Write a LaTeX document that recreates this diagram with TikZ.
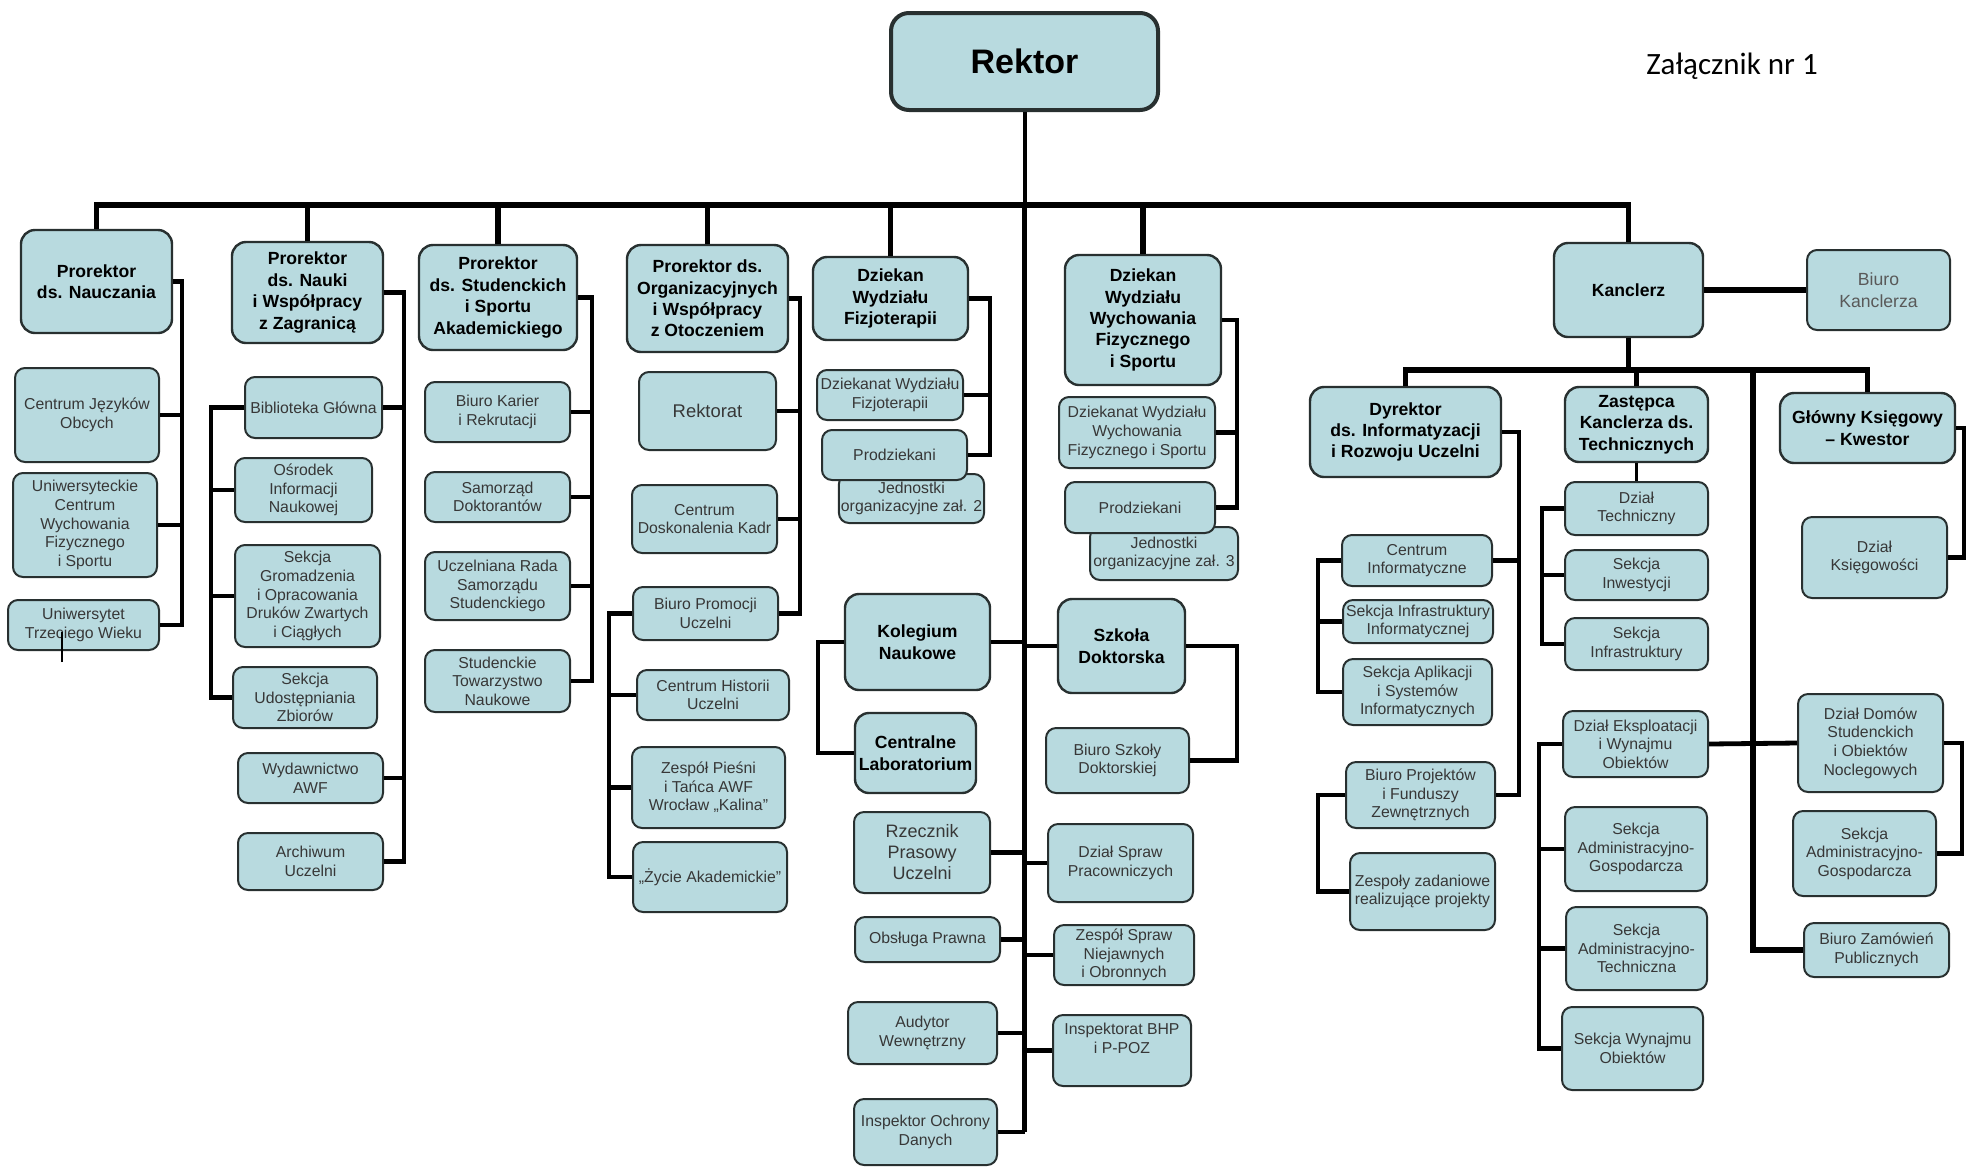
\documentclass[tikz,border=0pt]{standalone}
\usepackage{fontspec}
\setmainfont{Liberation Sans}
\newfontfamily\calibri{Carlito}
\usetikzlibrary{positioning}
\definecolor{boxfill}{RGB}{184,218,223}
\definecolor{boxline}{RGB}{40,48,48}
\definecolor{boxtext}{RGB}{55,55,55}
\tikzstyle{unit} = [draw=boxline, line width=1pt, fill=boxfill, rounded corners=5pt,
align=center, inner sep=1pt, text=boxtext, font=\fontsize{7.9}{9.3}\selectfont]
\tikzstyle{head} = [unit, rounded corners=7pt, line width=1.2pt, text=black,
font=\fontsize{8.8}{10.7}\selectfont\bfseries]
\tikzstyle{trunk} = [draw, line width=2.8pt]
\tikzstyle{wire} = [draw, line width=2.4pt]
% box from x1 to x2 and y1 to y2 (pixels of the chart)
\newcommand{\orgbox}[7][unit]{%
  \node[#1, minimum width={(#4-#3)*0.5pt}, minimum height={(#6-#5)*0.5pt}] (#2)
    at ({(#3+#4)/2},{(#5+#6)/2}) {#7};}

\begin{document}
\begin{tikzpicture}[x=0.5pt, y=-0.5pt]
	\useasboundingbox (0,0) rectangle (1968,1168);
	\orgbox[head, line width=2pt, rounded corners=9pt, font=\fontsize{17}{20}\selectfont\bfseries]{rektor}{891}{1158}{13}{110}{Rektor}
	\node[font=\calibri\fontsize{15.5}{18}\selectfont] (zal) at (1732,66) {Załącznik nr 1};
	%% Prorektorzy
	\orgbox[head]{pnd}{21}{172}{230}{333}{Prorektor\\ds. Nauczania}
	\orgbox{cjo}{15}{159}{368}{462}{Centrum Języków\\Obcych}
	\orgbox{ucwf}{13}{157}{473}{577}{Uniwersyteckie\\Centrum\\Wychowania\\Fizycznego\\i Sportu}
	\orgbox{utw}{8}{159}{600}{650}{Uniwersytet\\Trzeciego Wieku}
	\orgbox[head]{pnw}{232}{383}{242}{343}{Prorektor\\ds. Nauki\\i Współpracy\\z Zagranicą}
	\orgbox{bg}{245}{382}{377}{438}{Biblioteka Główna}
	\orgbox{oin}{235}{372}{458}{522}{Ośrodek\\Informacji\\Naukowej}
	\orgbox{sgo}{235}{380}{545}{647}{Sekcja\\Gromadzenia\\i Opracowania\\Druków Zwartych\\i Ciągłych}
	\orgbox{suz}{233}{377}{667}{728}{Sekcja\\Udostępniania\\Zbiorów}
	\orgbox{wawf}{238}{383}{753}{803}{Wydawnictwo\\AWF}
	\orgbox{au}{238}{383}{833}{890}{Archiwum\\Uczelni}
	\orgbox[head]{pss}{419}{577}{245}{350}{Prorektor\\ds. Studenckich\\i Sportu\\Akademickiego}
	\orgbox{bkr}{425}{570}{382}{442}{Biuro Karier\\i Rekrutacji}
	\orgbox{sdok}{425}{570}{472}{522}{Samorząd\\Doktorantów}
	\orgbox{urss}{425}{570}{552}{620}{Uczelniana Rada\\Samorządu\\Studenckiego}
	\orgbox{stn}{425}{570}{650}{712}{Studenckie\\Towarzystwo\\Naukowe}
	\orgbox[head]{pow}{627}{788}{245}{352}{Prorektor ds.\\Organizacyjnych\\i Współpracy\\z Otoczeniem}
	\orgbox[unit, font=\fontsize{9.2}{11}\selectfont]{rekt}{639}{776}{372}{450}{Rektorat}
	\orgbox{cdk}{632}{777}{485}{553}{Centrum\\Doskonalenia Kadr}
	\orgbox{bpu}{633}{778}{587}{640}{Biuro Promocji\\Uczelni}
	\orgbox{chu}{637}{789}{670}{720}{Centrum Historii\\Uczelni}
	\orgbox{zpt}{632}{785}{747}{828}{Zespół Pieśni\\i Tańca AWF\\Wrocław „Kalina”}
	\orgbox{za}{633}{787}{842}{912}{„Życie Akademickie”}
	%% Dziekani
	\orgbox[head]{dwf}{813}{968}{257}{340}{Dziekan\\Wydziału\\Fizjoterapii}
	\orgbox{dkf}{817}{963}{370}{420}{Dziekanat Wydziału\\Fizjoterapii}
	\orgbox{jo2}{839}{984}{474}{523}{Jednostki\\organizacyjne zał. 2}
	\orgbox{pdf}{822}{967}{430}{480}{Prodziekani}
	\orgbox[head]{dww}{1065}{1221}{255}{385}{Dziekan\\Wydziału\\Wychowania\\Fizycznego\\i Sportu}
	\orgbox{dkw}{1059}{1215}{397}{468}{Dziekanat Wydziału\\Wychowania\\Fizycznego i Sportu}
	\orgbox{jo3}{1090}{1238}{527}{580}{Jednostki\\organizacyjne zał. 3}
	\orgbox{pdw}{1065}{1215}{482}{533}{Prodziekani}
	%% Rektor units
	\orgbox[head]{kn}{845}{990}{594}{690}{Kolegium\\Naukowe}
	\orgbox[head]{cl}{855}{976}{713}{793}{Centralne\\Laboratorium}
	\orgbox[head]{sd}{1058}{1185}{599}{693}{Szkoła\\Doktorska}
	\orgbox{bsd}{1046}{1189}{728}{793}{Biuro Szkoły\\Doktorskiej}
	\orgbox[unit, font=\fontsize{9}{10.5}\selectfont]{rpu}{854}{990}{812}{893}{Rzecznik\\Prasowy\\Uczelni}
	\orgbox{dsp}{1048}{1193}{824}{902}{Dział Spraw\\Pracowniczych}
	\orgbox{op}{855}{1000}{917}{962}{Obsługa Prawna}
	\orgbox{zsn}{1054}{1194}{925}{985}{Zespół Spraw\\Niejawnych\\i Obronnych}
	\orgbox{aw}{848}{997}{1002}{1064}{Audytor\\Wewnętrzny}
	\orgbox{bhp}{1053}{1191}{1015}{1086}{Inspektorat BHP\\i P-POZ\\\strut}
	\orgbox{iod}{854}{997}{1099}{1165}{Inspektor Ochrony\\Danych}
	%% Kanclerz
	\orgbox[head]{kan}{1554}{1703}{243}{337}{Kanclerz}
	\orgbox[unit, text=black!65, font=\fontsize{8.8}{10.8}\selectfont]{bk}{1807}{1950}{250}{330}{Biuro\\Kanclerza}
	\orgbox[head]{dyr}{1310}{1501}{387}{477}{Dyrektor\\ds. Informatyzacji\\i Rozwoju Uczelni}
	\orgbox[head]{zk}{1565}{1708}{387}{462}{Zastępca\\Kanclerza ds.\\Technicznych}
	\orgbox[head]{gk}{1780}{1955}{393}{463}{Główny Księgowy\\– Kwestor}
	\orgbox{ci}{1342}{1492}{535}{586}{Centrum\\Informatyczne}
	\orgbox{sii}{1343}{1493}{600}{643}{Sekcja Infrastruktury\\Informatycznej}
	\orgbox{sasi}{1343}{1492}{659}{725}{Sekcja Aplikacji\\i Systemów\\Informatycznych}
	\orgbox{bpf}{1346}{1495}{762}{828}{Biuro Projektów\\i Funduszy\\Zewnętrznych}
	\orgbox{zz}{1350}{1495}{853}{930}{Zespoły zadaniowe\\realizujące projekty}
	\orgbox{dt}{1565}{1708}{482}{535}{Dział\\Techniczny}
	\orgbox{sinw}{1565}{1708}{550}{600}{Sekcja\\Inwestycji}
	\orgbox{sinf}{1565}{1708}{618}{670}{Sekcja\\Infrastruktury}
	\orgbox{dewo}{1563}{1708}{711}{777}{Dział Eksploatacji\\i Wynajmu\\Obiektów}
	\orgbox{sag}{1565}{1707}{807}{891}{Sekcja\\Administracyjno-\\Gospodarcza}
	\orgbox{sat}{1566}{1707}{907}{990}{Sekcja\\Administracyjno-\\Techniczna}
	\orgbox{swo}{1562}{1703}{1007}{1090}{Sekcja Wynajmu\\Obiektów}
	\orgbox{dk}{1802}{1947}{517}{598}{Dział\\Księgowości}
	\orgbox{ddso}{1798}{1943}{694}{792}{Dział Domów\\Studenckich\\i Obiektów\\Noclegowych}
	\orgbox{sagd}{1793}{1936}{811}{896}{Sekcja\\Administracyjno-\\Gospodarcza}
	\orgbox{bzp}{1804}{1949}{923}{977}{Biuro Zamówień\\Publicznych}
	%% Lines
	\coordinate (bar) at (0,205);
	\coordinate (kbar) at (0,370);
	\coordinate (ndr) at (182,0);
	\coordinate (nkr) at (404,0);
	\coordinate (nkl) at (211,0);
	\coordinate (ssr) at (592,0);
	\coordinate (owr) at (800,0);
	\coordinate (owl) at (609,0);
	\coordinate (dfr) at (990,0);
	\coordinate (dwr) at (1237,0);
	\coordinate (knl) at (818,0);
	\coordinate (sdr) at (1237,0);
	\coordinate (dyrr) at (1519,0);
	\coordinate (dyrl) at (1318,0);
	\coordinate (zkl) at (1542,0);
	\coordinate (del) at (1539,0);
	\coordinate (kx) at (1753,370);
	\coordinate (ddr) at (1962,0);
	\coordinate (gkr) at (1964,0);
	\draw[trunk] (pnd.north) -- (pnd.north |- bar) -- (kan.north |- bar) -- (kan.north);
	\foreach \n in {pnw,pss,pow,dwf,dww}
		\draw[trunk] (\n.north) -- (\n.north |- bar);
	\draw[wire, line width=2pt] (rektor.south) -- (rektor.south |- bar);
	\draw[trunk] (rektor.south |- bar) -- (rektor.south |- iod.east);
	\foreach \n in {kn,rpu,op,aw,iod}
		\draw[wire] (\n.east) -- (\n.east -| rektor.south);
	\foreach \n in {sd,dsp,zsn,bhp}
		\draw[wire] (\n.west) -- (\n.west -| rektor.south);
	\draw[wire] (pnd.east) -- (pnd.east -| ndr) |- (utw.east);
	\foreach \n in {cjo,ucwf}
		\draw[wire] (\n.east) -- (\n.east -| ndr);
	\draw[wire] (pnw.east) -- (pnw.east -| nkr) |- (au.east);
	\foreach \n in {bg,wawf}
		\draw[wire] (\n.east) -- (\n.east -| nkr);
	\draw[wire] (bg.west) -- (bg.west -| nkl) |- (suz.west);
	\foreach \n in {oin,sgo}
		\draw[wire] (\n.west) -- (\n.west -| nkl);
	\draw[wire] (pss.east) -- (pss.east -| ssr) |- (stn.east);
	\foreach \n in {bkr,sdok,urss}
		\draw[wire] (\n.east) -- (\n.east -| ssr);
	\draw[wire] (pow.east) -- (pow.east -| owr) |- (bpu.east);
	\foreach \n in {rekt,cdk}
		\draw[wire] (\n.east) -- (\n.east -| owr);
	\draw[wire] (bpu.west) -- (bpu.west -| owl) |- (za.west);
	\foreach \n in {chu,zpt}
		\draw[wire] (\n.west) -- (\n.west -| owl);
	\draw[wire] (dwf.east) -- (dwf.east -| dfr) |- (pdf.east);
	\draw[wire] (dkf.east) -- (dkf.east -| dfr);
	\draw[wire] (dww.east) -- (dww.east -| dwr) |- (pdw.east);
	\draw[wire] (dkw.east) -- (dkw.east -| dwr);
	\draw[wire] (kn.west) -- (kn.west -| knl) |- (cl.west);
	\draw[wire] (sd.east) -- (sd.east -| sdr) |- (bsd.east);
	%% Kanclerz lines
	\draw[trunk] (kan.east) -- (bk.west);
	\draw[trunk] (kan.south) -- (kan.south |- kbar);
	\draw[trunk] (dyr.north) -- (dyr.north |- kbar) -- (gk.north |- kbar) -- (gk.north);
	\draw[trunk] (zk.north) -- (zk.north |- kbar);
	\draw[trunk] (kx) |- (bzp.west);
	\draw[wire, line width=1.3pt] (zk.south) -- (dt.north);
	\draw[wire] (dt.west) -- (dt.west -| zkl) |- (sinf.west);
	\draw[wire] (sinw.west) -- (sinw.west -| zkl);
	\draw[wire] (dyr.east) -- (dyr.east -| dyrr) |- (bpf.east);
	\draw[wire] (ci.east) -- (ci.east -| dyrr);
	\draw[wire] (ci.west) -- (ci.west -| dyrl) |- (sasi.west);
	\draw[wire] (sii.west) -- (sii.west -| dyrl);
	\draw[wire] (bpf.west) -- (bpf.west -| dyrl) |- (zz.west);
	\draw[wire] (dewo.east) -- (ddso.west);
	\draw[wire] (dewo.west) -- (dewo.west -| del) |- (swo.west);
	\foreach \n in {sag,sat}
		\draw[wire] (\n.west) -- (\n.west -| del);
	\draw[wire] (ddso.east) -- (ddso.east -| ddr) |- (sagd.east);
	\draw[wire] (gk.east) -- (gk.east -| gkr) |- (dk.east);
	\coordinate (tick) at (62,662);
	\draw[line width=1pt] (tick) -- ++(0,-30);
\end{tikzpicture}
\end{document}
